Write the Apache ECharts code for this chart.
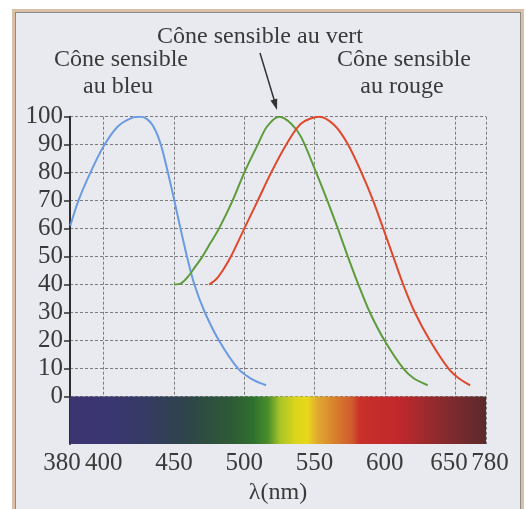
<!DOCTYPE html>
<html>
<head>
<meta charset="utf-8">
<script src="https://cdn.jsdelivr.net/npm/echarts@6/dist/echarts.min.js"></script>
<style>
    body { margin: 0; background: #fff; }
    #frame {
        position: absolute; left: 15px; top: 12px; width: 504px; height: 520px;
        background: #e8eaf0; border: 1px solid #8a8a8a;
        box-shadow: 0 0 0 3px #d9c0a6;
    }
    #main { position: absolute; left: 0; top: 0; width: 526px; height: 509px; }
</style>
</head>
<body>
<div id="frame"></div>
<div id="main"></div>
<script type="text/javascript">

    // valeurs : [longueur d'onde (échelle de l'axe), sensibilité %]
    var blueCurve = [
        [376.2, 61], [382, 70], [390.5, 80], [400, 89.5], [410, 96.5], [420, 99.6],
        [427, 100], [434, 97.5], [440, 91], [445, 81.5], [449.8, 71], [454.4, 60.5],
        [459, 50.5], [464.5, 40], [472, 30], [482, 20], [495.5, 10], [505, 6.3], [515.5, 4]
    ];
    var greenCurve = [
        [450, 40], [455, 40.4], [460, 42.8], [465, 46.3], [470, 49.8], [476, 54.9],
        [482, 60], [491.7, 70], [500, 80], [509.6, 90], [516.2, 96.5], [525, 100],
        [533.4, 97.5], [540.5, 92.7], [551.2, 80], [559.1, 70], [566.6, 60], [573.7, 50],
        [581.2, 40], [589.4, 30], [599.8, 20], [613.1, 10], [620.5, 6.5], [630.5, 4]
    ];
    var redCurve = [
        [475, 40], [480, 41.9], [485, 45.3], [490.5, 50], [500, 60], [509.6, 70],
        [519.1, 80], [529.8, 90], [540.5, 97.6], [553.4, 100], [564, 97], [573.9, 90],
        [583.4, 80], [591.7, 70], [598.9, 60], [606, 50], [613.1, 40], [621.4, 30],
        [632.1, 20], [645.2, 10], [652.6, 6.5], [660.7, 4]
    ];

    var yTicks = [0, 10, 20, 30, 40, 50, 60, 70, 80, 90, 100];
    var xTickPos = [376, 400, 450, 500, 550, 600, 650, 672];
    var xTickLabels = ['380', '400', '450', '500', '550', '600', '650', '780'];
    var barBottom = -17;

    var spectrum = [
        [0, '#3b3570'], [0.096, '#3a3672'], [0.19, '#343b60'], [0.29, '#2e4648'],
        [0.385, '#2e5a36'], [0.44, '#2f7030'], [0.476, '#4a8e2a'], [0.505, '#a8c428'],
        [0.54, '#d8d41c'], [0.57, '#e8d81a'], [0.596, '#e0a830'], [0.637, '#d8802c'],
        [0.678, '#d05a2c'], [0.697, '#c83028'], [0.79, '#c0282c'], [0.889, '#8c2a2e'],
        [1, '#5a2a2c']
    ];

    var serif = 'Liberation Serif';
    var ink = '#3a3a3a';
    var tickFont = 25;

    var myChart = echarts.init(document.getElementById('main'));

    var option = {
        backgroundColor: 'transparent',
        animation: false,
        grid: { left: 70, right: 40, top: 116.7, bottom: 65, containLabel: false, outerBoundsMode: 'none' },
        xAxis: {
            type: 'value',
            min: 376,
            max: 672,
            name: 'λ(nm)',
            nameLocation: 'middle',
            nameGap: 26,
            nameTextStyle: { fontFamily: serif, fontSize: 24, color: ink },
            axisLine: { show: false },
            axisTick: { show: false, customValues: xTickPos },
            axisLabel: {
                customValues: xTickPos,
                margin: 7,
                fontFamily: serif,
                fontSize: tickFont,
                color: ink,
                formatter: function (v) {
                    var i = xTickPos.indexOf(v);
                    if (i === 0) return '{l|' + xTickLabels[i] + '}';
                    if (i === xTickPos.length - 2) return '{m|' + xTickLabels[i] + '}';
                    if (i === xTickPos.length - 1) return '{r|' + xTickLabels[i] + '}';
                    return xTickLabels[i];
                },
                rich: {
                    l: { fontFamily: serif, fontSize: tickFont, color: ink, padding: [0, 16, 0, 0] },
                    m: { fontFamily: serif, fontSize: tickFont, color: ink, padding: [0, 12, 0, 0] },
                    r: { fontFamily: serif, fontSize: tickFont, color: ink, padding: [0, 0, 0, 8] }
                }
            },
            splitLine: { show: true, lineStyle: { color: '#7c7c7c', type: [3, 2], width: 1 } }
        },
        yAxis: {
            type: 'value',
            min: barBottom,
            max: 100,
            axisLine: { show: true, lineStyle: { color: '#2e2e2e', width: 2 } },
            axisTick: { show: true, customValues: yTicks, length: 6, lineStyle: { color: '#2e2e2e', width: 1.5 } },
            axisLabel: {
                customValues: yTicks,
                margin: 7,
                fontFamily: serif,
                fontSize: tickFont,
                color: ink
            },
            splitLine: { show: true, lineStyle: { color: '#7c7c7c', type: [3, 2], width: 1 } }
        },
        series: [
            {
                name: 'bleu',
                type: 'line',
                data: blueCurve,
                smooth: 0.3,
                showSymbol: false,
                lineStyle: { color: '#6b9be0', width: 2 },
                markArea: {
                    silent: true,
                    itemStyle: {
                        opacity: 1,
                        color: new echarts.graphic.LinearGradient(0, 0, 1, 0, spectrum.map(function (s) {
                            return { offset: s[0], color: s[1] };
                        }))
                    },
                    data: [[{ xAxis: 376, yAxis: barBottom }, { xAxis: 672, yAxis: 0 }]]
                }
            },
            {
                name: 'vert',
                type: 'line',
                data: greenCurve,
                smooth: 0.3,
                showSymbol: false,
                lineStyle: { color: '#5c9c3a', width: 2 }
            },
            {
                name: 'rouge',
                type: 'line',
                data: redCurve,
                smooth: 0.3,
                showSymbol: false,
                lineStyle: { color: '#e0482c', width: 2 }
            }
        ],
        graphic: [
            { type: 'text', x: 260, y: 37, style: { text: 'Cône sensible au vert', font: '24px ' + serif, fill: ink, align: 'center', verticalAlign: 'middle' } },
            { type: 'text', x: 121, y: 60, style: { text: 'Cône sensible', font: '24px ' + serif, fill: ink, align: 'center', verticalAlign: 'middle' } },
            { type: 'text', x: 118, y: 87, style: { text: 'au bleu', font: '24px ' + serif, fill: ink, align: 'center', verticalAlign: 'middle' } },
            { type: 'text', x: 404, y: 60, style: { text: 'Cône sensible', font: '24px ' + serif, fill: ink, align: 'center', verticalAlign: 'middle' } },
            { type: 'text', x: 402, y: 87, style: { text: 'au rouge', font: '24px ' + serif, fill: ink, align: 'center', verticalAlign: 'middle' } },
            { type: 'line', shape: { x1: 260, y1: 53, x2: 274.5, y2: 101 }, style: { stroke: '#333', lineWidth: 1.5 } },
            { type: 'polygon', shape: { points: [[277, 110], [277.2, 98.5], [270.5, 100.5]] }, style: { fill: '#333' } }
        ]
    };

    myChart.setOption(option);

</script>
</body>
</html>
